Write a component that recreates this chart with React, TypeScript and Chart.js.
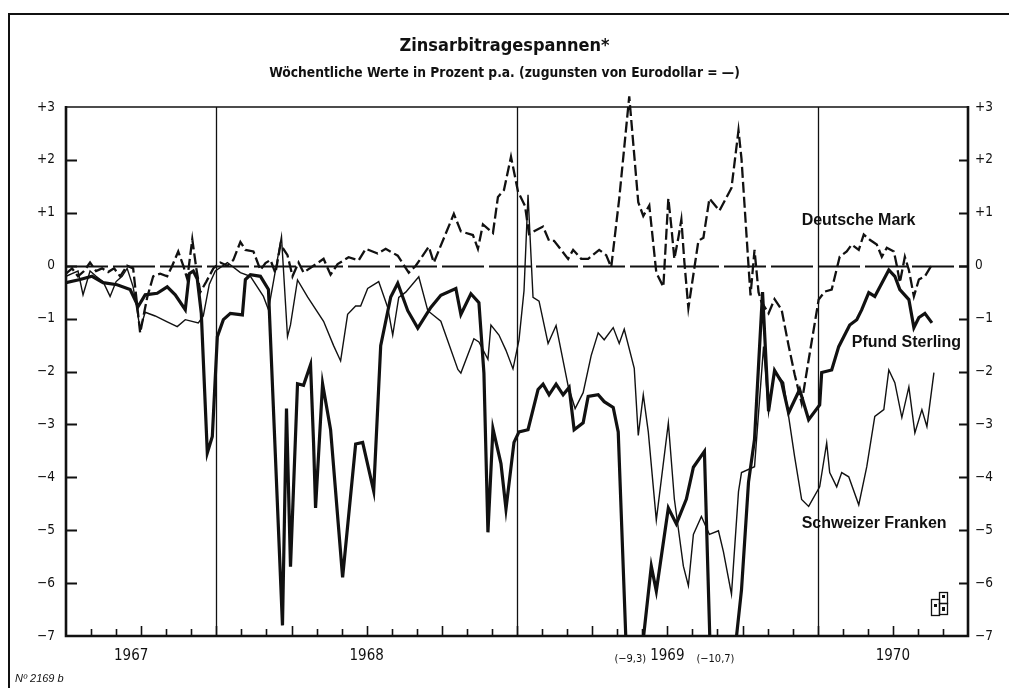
import React, { useEffect, useRef } from "react";
import { Chart, registerables } from "chart.js";

Chart.register(...registerables);

// ---------- data (months since 1 July 1967, percent p.a.) ----------
const yearLabels = ["1967", "1968", "1969", "1970"];
const yearLabelMonths = [2.6, 12, 24, 33];
const yearBoundaryMonths = [6, 18, 30];

const dmMonths = [
  0, 0.24, 0.48, 0.72, 0.96, 1.2, 1.44, 1.68, 1.92, 2.16, 2.44, 2.68, 2.96, 3.24, 3.48, 3.76, 4.04, 4.24, 4.48, 4.68,
  4.84, 5.04, 5.2, 5.36, 5.6, 5.88, 6.16, 6.44, 6.68, 6.96, 7.16, 7.48, 7.76, 7.96, 8.16, 8.36, 8.56, 8.84, 9.04, 9.28,
  9.48, 9.88, 10.28, 10.56, 10.84, 11.28, 11.68, 11.96, 12.44, 12.76, 13.24, 13.68, 13.96, 14.48, 14.68, 15.08, 15.48, 15.76, 16.24, 16.44,
  16.64, 17.04, 17.24, 17.48, 17.76, 18.04, 18.32, 18.48, 19.04, 19.28, 19.48, 20.04, 20.24, 20.56, 20.84, 21.28, 21.56, 21.76, 22.08, 22.48,
  22.84, 23.04, 23.28, 23.56, 23.84, 24.04, 24.16, 24.28, 24.44, 24.56, 24.68, 24.84, 25.24, 25.44, 25.68, 26.08, 26.56, 26.84, 26.96, 27.24,
  27.32, 27.48, 27.64, 27.76, 28.04, 28.28, 28.56, 28.84, 29.08, 29.36, 29.64, 30.04, 30.28, 30.56, 30.88, 31.16, 31.36, 31.64, 31.84, 32.08,
  32.36, 32.56, 32.76, 33.04, 33.16, 33.28, 33.48, 33.64, 33.84, 34.04, 34.28, 34.56,
];
const dmValues = [
  -0.15, -0.05, -0.2, -0.1, 0.06, -0.1, -0.05, -0.12, -0.05, -0.2, 0, -0.05, -1.27, -0.6, -0.2, -0.15, -0.2, 0, 0.27, 0,
  -0.25, 0.5, -0.05, -0.5, -0.3, -0.05, 0.06, 0, 0.11, 0.45, 0.3, 0.27, -0.08, 0.05, 0.11, -0.14, 0.4, 0.2, -0.2, 0.06,
  -0.13, 0, 0.13, -0.17, 0.03, 0.16, 0.1, 0.32, 0.23, 0.32, 0.19, -0.13, 0, 0.36, 0.06, 0.52, 0.98, 0.65, 0.58, 0.32,
  0.78, 0.62, 1.3, 1.43, 2.06, 1.4, 1.13, 0.6, 0.74, 0.47, 0.47, 0.13, 0.3, 0.13, 0.13, 0.3, 0.2, -0.03, 1.27, 3.2,
  1.2, 0.94, 1.14, -0.13, -0.4, 1.27, 0.74, 0.13, 0.53, 0.87, 0.07, -0.8, 0.47, 0.53, 1.27, 1.04, 1.47, 2.56, 2.02, 0,
  -0.56, 0.3, -0.5, -0.69, -0.9, -0.63, -0.83, -1.51, -2.05, -2.6, -1.78, -0.64, -0.49, -0.45, 0.17, 0.27, 0.4, 0.3, 0.59, 0.49,
  0.4, 0.17, 0.34, 0.27, 0, -0.32, 0.17, -0.08, -0.58, -0.26, -0.2, 0.02,
];

const gbpMonths = [
  0, 0.56, 1.04, 1.48, 2.04, 2.56, 2.88, 3.16, 3.64, 4.04, 4.36, 4.76, 4.92, 5.08, 5.24, 5.4, 5.64, 5.84, 6.04, 6.28,
  6.56, 7.04, 7.16, 7.36, 7.76, 8.08, 8.64, 8.8, 8.96, 9.24, 9.48, 9.76, 9.88, 9.96, 10.24, 10.56, 11.04, 11.56, 11.84, 12.28,
  12.56, 12.96, 13.24, 13.64, 14.04, 14.56, 14.96, 15.56, 15.76, 16.16, 16.48, 16.68, 16.84, 17.04, 17.36, 17.56, 17.88, 18.08, 18.44, 18.84,
  19.04, 19.28, 19.56, 19.84, 20.08, 20.28, 20.64, 20.84, 21.24, 21.48, 21.84, 22.04, 22.52, 23.36, 23.56, 24.04, 24.36, 24.76, 25.04, 25.48,
  25.92, 26.96, 27.24, 27.48, 27.8, 28.04, 28.28, 28.56, 28.84, 29.28, 29.64, 30.08, 30.16, 30.56, 30.84, 31.28, 31.56, 31.76, 32.04, 32.28,
  32.84, 33.08, 33.28, 33.64, 33.84, 34.04, 34.28, 34.56,
];
const gbpValues = [
  -0.32, -0.26, -0.2, -0.32, -0.36, -0.45, -0.77, -0.55, -0.52, -0.4, -0.55, -0.83, -0.15, -0.1, -0.25, -0.9, -3.54, -3.23, -1.34, -1.02,
  -0.9, -0.93, -0.26, -0.17, -0.2, -0.45, -6.8, -2.7, -5.69, -2.23, -2.26, -1.87, -3.34, -4.58, -2.23, -3.1, -5.89, -3.37, -3.34, -4.26,
  -1.51, -0.59, -0.33, -0.85, -1.18, -0.79, -0.56, -0.43, -0.92, -0.53, -0.7, -2.03, -5.04, -3.08, -3.74, -4.6, -3.34, -3.14, -3.1, -2.34,
  -2.24, -2.44, -2.24, -2.44, -2.3, -3.1, -2.97, -2.47, -2.44, -2.57, -2.68, -3.14, -9.3, -5.68, -6.15, -4.58, -4.88, -4.41, -3.81, -3.51,
  -10.7, -6.13, -4.09, -3.28, -0.5, -2.75, -1.98, -2.2, -2.78, -2.34, -2.91, -2.63, -2.02, -1.97, -1.53, -1.12, -1.02, -0.83, -0.51, -0.58,
  -0.08, -0.2, -0.45, -0.64, -1.17, -0.98, -0.9, -1.08,
];

const chfMonths = [
  0, 0.24, 0.48, 0.68, 0.96, 1.2, 1.48, 1.76, 2.0, 2.24, 2.44, 2.68, 2.96, 3.16, 3.56, 4.04, 4.44, 4.76, 5.28, 5.48,
  5.72, 5.96, 6.44, 6.96, 7.36, 7.88, 8.08, 8.6, 8.84, 8.96, 9.24, 9.64, 10.28, 10.68, 10.96, 11.24, 11.56, 11.76, 12.04, 12.48,
  12.84, 13.04, 13.28, 13.56, 14.08, 14.44, 14.96, 15.64, 15.76, 16.28, 16.48, 16.84, 16.96, 17.28, 17.56, 17.84, 18.08, 18.28, 18.44, 18.64,
  18.88, 19.24, 19.56, 20.04, 20.32, 20.64, 20.96, 21.24, 21.48, 21.84, 22.08, 22.28, 22.68, 22.84, 23.04, 23.24, 23.56, 24.04, 24.28, 24.64,
  24.84, 25.04, 25.36, 25.68, 26.04, 26.24, 26.56, 26.84, 26.96, 27.48, 27.84, 28.04, 28.28, 28.64, 29.08, 29.36, 29.64, 30.08, 30.36, 30.48,
  30.76, 30.96, 31.24, 31.64, 31.96, 32.28, 32.64, 32.84, 33.08, 33.36, 33.64, 33.88, 34.16, 34.36, 34.64,
];
const chfValues = [
  -0.2, -0.15, -0.1, -0.55, -0.1, -0.2, -0.3, -0.58, -0.3, -0.2, -0.05, -0.4, -1.2, -0.88, -0.95, -1.06, -1.15, -1.02, -1.08, -0.95,
  -0.35, -0.1, 0.06, -0.13, -0.2, -0.58, -0.83, 0.55, -1.34, -1.12, -0.27, -0.59, -1.05, -1.51, -1.8, -0.92, -0.76, -0.76, -0.43, -0.3,
  -0.79, -1.31, -0.6, -0.5, -0.21, -0.85, -1.05, -1.96, -2.03, -1.38, -1.44, -1.77, -1.12, -1.31, -1.6, -1.95, -1.4, -0.47, 1.34, -0.6,
  -0.67, -1.47, -1.13, -2.27, -2.7, -2.4, -1.7, -1.27, -1.4, -1.17, -1.47, -1.2, -1.94, -3.21, -2.44, -3.14, -4.81, -2.97, -4.41, -5.68,
  -6.05, -5.08, -4.74, -5.08, -5.01, -5.41, -6.21, -4.27, -3.91, -3.8, -1.53, -2.78, -2.0, -2.21, -3.61, -4.42, -4.55, -4.18, -3.35, -3.91,
  -4.18, -3.91, -3.99, -4.52, -3.8, -2.85, -2.72, -1.97, -2.21, -2.87, -2.29, -3.16, -2.72, -3.04, -2.02,
];

const seriesNames = ["Deutsche Mark", "Pfund Sterling", "Schweizer Franken"];
// label anchors (month, value) of the series names, left edge / vertical middle
const seriesLabelMonths = [29.36, 31.36, 29.36];
const seriesLabelValues = [0.85, -1.46, -4.88];
// values that run below the scale, annotated under the axis
const offscaleMonths = [22.52, 25.92];
const offscaleValues = [-9.3, -10.7];

const titleText = "Zinsarbitragespannen*";
const subtitleText = "Wöchentliche Werte in Prozent p.a. (zugunsten von Eurodollar = —)";
const noteText = "Nº 2169 b";

// ---------- styling ----------
const INK = "#111";
const NARROW = '"Liberation Sans Narrow", "DejaVu Sans Condensed", "Liberation Sans", sans-serif';
const SANS = '"Liberation Sans", Arial, sans-serif';

const fmtY = (v: number) => (v > 0 ? "+" + v : v < 0 ? "\u2212" + Math.abs(v) : "0");
const fmtComma = (v: number) => "(" + (v < 0 ? "\u2212" : "") + Math.abs(v).toFixed(1).replace(".", ",") + ")";

const pts = (xs: number[], ys: number[]) => xs.map((x, i) => ({ x, y: ys[i] }));

const decor = {
  id: "decor",
  beforeDraw(chart: any) {
    const ctx = chart.ctx;
    ctx.save();
    ctx.fillStyle = "#fff";
    ctx.fillRect(0, 0, chart.width, chart.height);
    ctx.strokeStyle = INK;
    ctx.lineWidth = 2;
    ctx.beginPath();
    ctx.moveTo(9, chart.height);
    ctx.lineTo(9, 14);
    ctx.lineTo(chart.width, 14);
    ctx.stroke();
    ctx.restore();
  },
  beforeDatasetsDraw(chart: any) {
    const { ctx, chartArea: a, scales } = chart;
    const xs = scales.x;
    const ys = scales.y;
    ctx.save();
    ctx.strokeStyle = INK;
    ctx.lineWidth = 1.3;
    yearBoundaryMonths.forEach((m) => {
      const px = Math.round(xs.getPixelForValue(m)) + 0.5;
      ctx.beginPath();
      ctx.moveTo(px, a.top);
      ctx.lineTo(px, a.bottom);
      ctx.stroke();
    });
    const y0 = Math.round(ys.getPixelForValue(0)) + 0.5;
    ctx.lineWidth = 1.8;
    ctx.setLineDash([42, 5]);
    ctx.beginPath();
    ctx.moveTo(a.left, y0);
    ctx.lineTo(a.right, y0);
    ctx.stroke();
    ctx.restore();
  },
  afterDatasetsDraw(chart: any) {
    const { ctx, chartArea: a, scales } = chart;
    const xs = scales.x;
    const ys = scales.y;
    ctx.save();
    ctx.strokeStyle = INK;
    ctx.fillStyle = INK;
    // plot frame
    ctx.lineWidth = 1.6;
    ctx.beginPath();
    ctx.moveTo(a.left, a.top);
    ctx.lineTo(a.right, a.top);
    ctx.stroke();
    ctx.lineWidth = 2.6;
    ctx.beginPath();
    ctx.moveTo(a.left, a.top - 1);
    ctx.lineTo(a.left, a.bottom);
    ctx.lineTo(a.right, a.bottom);
    ctx.lineTo(a.right, a.top - 1);
    ctx.stroke();
    // y ticks (inward, both sides)
    ctx.lineWidth = 2;
    for (let v = -6; v <= 2; v++) {
      const py = Math.round(ys.getPixelForValue(v)) + 0.5;
      ctx.beginPath();
      ctx.moveTo(a.left, py);
      ctx.lineTo(a.left + 11, py);
      ctx.moveTo(a.right, py);
      ctx.lineTo(a.right - 9, py);
      ctx.stroke();
    }
    // month ticks (inward, bottom)
    ctx.lineWidth = 1.6;
    for (let m = 1; m < 36; m++) {
      const px = Math.round(xs.getPixelForValue(m)) + 0.5;
      const len = m % 3 === 0 ? 10 : 7;
      ctx.beginPath();
      ctx.moveTo(px, a.bottom);
      ctx.lineTo(px, a.bottom - len);
      ctx.stroke();
    }
    // series names
    ctx.font = "bold 16px " + SANS;
    ctx.textAlign = "left";
    ctx.textBaseline = "middle";
    seriesNames.forEach((name, i) => {
      ctx.fillText(name, xs.getPixelForValue(seriesLabelMonths[i]), ys.getPixelForValue(seriesLabelValues[i]));
    });
    // off-scale annotations below the axis
    ctx.font = "11px " + NARROW;
    ctx.textAlign = "center";
    offscaleMonths.forEach((m, i) => {
      ctx.fillText(fmtComma(offscaleValues[i]), xs.getPixelForValue(m), a.bottom + 23);
    });
    // publication number
    ctx.font = "italic 11px " + SANS;
    ctx.textAlign = "left";
    ctx.fillText(noteText, 15, chart.height - 9);
    // small emblem
    ctx.lineWidth = 1.3;
    ctx.strokeRect(a.right - 36.5, a.bottom - 36.5, 8, 16);
    ctx.strokeRect(a.right - 28.5, a.bottom - 43.5, 8, 11);
    ctx.strokeRect(a.right - 28.5, a.bottom - 32.5, 8, 11);
    ctx.fillRect(a.right - 34, a.bottom - 32, 3, 3);
    ctx.fillRect(a.right - 26, a.bottom - 41, 3, 3);
    ctx.fillRect(a.right - 26, a.bottom - 29, 3, 4);
    ctx.restore();
  },
};

export default function App() {
  const ref = useRef<HTMLCanvasElement>(null);
  useEffect(() => {
    const yTickFont = { family: NARROW, size: 13.5 };
    const chart = new Chart(ref.current as HTMLCanvasElement, {
      type: "line",
      data: {
        datasets: [
          {
            label: seriesNames[2],
            data: pts(chfMonths, chfValues),
            borderColor: INK,
            borderWidth: 1.4,
            pointRadius: 0,
            tension: 0,
            clip: 0,
          },
          {
            label: seriesNames[0],
            data: pts(dmMonths, dmValues),
            borderColor: INK,
            borderWidth: 2.3,
            borderDash: [11, 4],
            pointRadius: 0,
            tension: 0,
            clip: { left: 0, right: 0, bottom: 0, top: 16 },
          },
          {
            label: seriesNames[1],
            data: pts(gbpMonths, gbpValues),
            borderColor: INK,
            borderWidth: 3.2,
            pointRadius: 0,
            tension: 0,
            clip: 0,
          },
        ],
      },
      options: {
        animation: false,
        responsive: false,
        devicePixelRatio: 1,
        layout: { padding: 0 },
        plugins: {
          legend: { display: false },
          tooltip: { enabled: false },
          title: {
            display: true,
            text: titleText,
            color: INK,
            font: { family: NARROW, size: 18, weight: "bold" },
            padding: { top: 35.2, bottom: 4 },
          },
          subtitle: {
            display: true,
            text: subtitleText,
            color: INK,
            font: { family: NARROW, size: 13.7, weight: "bold" },
            padding: { top: 4.5, bottom: 25.3 },
          },
        },
        scales: {
          x: {
            type: "linear",
            min: 0,
            max: 36,
            grid: { display: false, drawTicks: false },
            border: { display: false },
            afterBuildTicks: (s: any) => {
              s.ticks = yearLabelMonths.map((v) => ({ value: v }));
            },
            afterFit: (s: any) => {
              s.height = 52;
            },
            ticks: {
              autoSkip: false,
              maxRotation: 0,
              padding: 11,
              color: INK,
              font: { family: NARROW, size: 15 },
              callback: (_v: any, i: number) => yearLabels[i] ?? "",
            },
          },
          y: {
            type: "linear",
            position: "left",
            min: -7,
            max: 3,
            grid: { display: false, drawTicks: false },
            border: { display: false },
            afterFit: (s: any) => {
              s.width = 66;
            },
            ticks: { stepSize: 1, padding: 11, color: INK, font: yTickFont, callback: (v: any) => fmtY(Number(v)) },
          },
          y2: {
            type: "linear",
            position: "right",
            min: -7,
            max: 3,
            grid: { display: false, drawTicks: false },
            border: { display: false },
            afterFit: (s: any) => {
              s.width = 41;
            },
            ticks: { stepSize: 1, padding: 7, color: INK, font: yTickFont, callback: (v: any) => fmtY(Number(v)) },
          },
        },
      },
      plugins: [decor],
    } as any);
    return () => chart.destroy();
  }, []);
  return (
    <div style={{ position: "absolute", left: 0, top: 0, width: 1009, height: 688, background: "#fff" }}>
      <canvas ref={ref} width={1009} height={688} style={{ display: "block", width: 1009, height: 688 }} />
    </div>
  );
}
